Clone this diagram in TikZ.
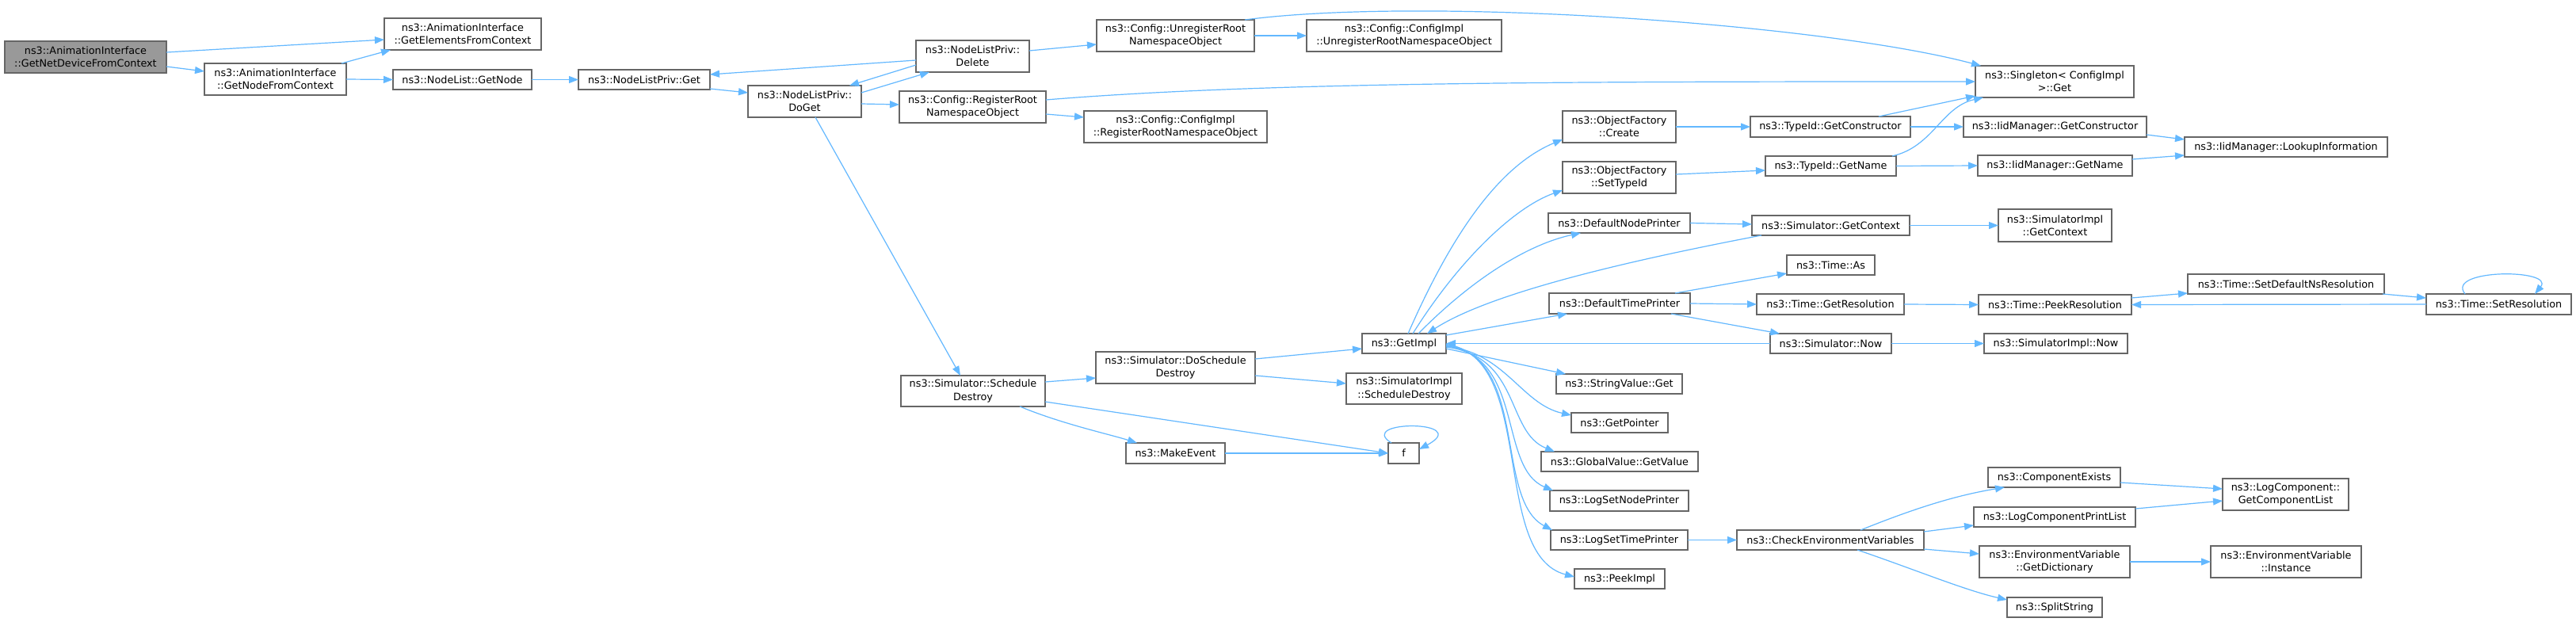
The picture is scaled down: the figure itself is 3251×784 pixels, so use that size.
\documentclass[tikz,border=0pt]{standalone}
\usepackage{fontspec}
\setmainfont{DejaVu Sans}
\usetikzlibrary{arrows.meta,calc}
\definecolor{edgec}{HTML}{63B8FF}
\definecolor{bord}{HTML}{666666}
\definecolor{rootc}{HTML}{999999}
\newcommand\bx[7][]{\node[box,#1,minimum width={(#5)-(#3)},minimum height={(#6)-(#4)}] (#2) at ({((#3)+(#5))/2},{((#4)+(#6))/2}) {#7};}
\begin{document}
\begin{tikzpicture}[x=1pt,y=-1pt,
  box/.style={draw=bord,line width=1.3pt,fill=white,inner sep=0pt,outer sep=0pt,align=center,font=\fontsize{12.8}{16.4}\selectfont},
  edge/.style={draw=edgec,line width=1.2pt,-{Triangle[length=12pt,width=9pt]}}]
\fill[white] (0,0) rectangle (3251,784);
\useasboundingbox (0,0) rectangle (3251,784);
% nodes
\bx[fill=rootc]{N0}{6}{52}{210}{92}{ns3::AnimationInterface\\::GetNetDeviceFromContext}
\bx{N1}{258}{80}{437}{120}{ns3::AnimationInterface\\::GetNodeFromContext}
\bx{N2}{485}{23}{683}{63}{ns3::AnimationInterface\\::GetElementsFromContext}
\bx{N3}{496}{88}{671}{113}{ns3::NodeList::GetNode}
\bx{N4}{730}{88}{896}{113}{ns3::NodeListPriv::Get}
\bx{N5}{944}{108}{1087}{148}{ns3::NodeListPriv::\\DoGet}
\bx{N6}{1156}{51}{1299}{91}{ns3::NodeListPriv::\\Delete}
\bx{N7}{1384}{25}{1583}{65}{ns3::Config::UnregisterRoot\\NamespaceObject}
\bx{N10}{1649}{25}{1895}{65}{ns3::Config::ConfigImpl\\::UnregisterRootNamespaceObject}
\bx{N8}{1135}{115}{1320}{155}{ns3::Config::RegisterRoot\\NamespaceObject}
\bx{N9}{1368}{140}{1599}{180}{ns3::Config::ConfigImpl\\::RegisterRootNamespaceObject}
\bx{N11}{2493}{83}{2693}{123}{ns3::Singleton< ConfigImpl\\>::Get}
\bx{N15}{1972}{140}{2115}{180}{ns3::ObjectFactory\\::Create}
\bx{N16}{2209}{147}{2411}{173}{ns3::TypeId::GetConstructor}
\bx{N12}{2478}{147}{2709}{173}{ns3::IidManager::GetConstructor}
\bx{N17}{1972}{204}{2115}{244}{ns3::ObjectFactory\\::SetTypeId}
\bx{N18}{2228}{197}{2393}{222}{ns3::TypeId::GetName}
\bx{N13}{2496}{196}{2691}{222}{ns3::IidManager::GetName}
\bx{N14}{2757}{173}{3013}{198}{ns3::IidManager::LookupInformation}
\bx{N19}{1954}{269}{2133}{294}{ns3::DefaultNodePrinter}
\bx{N20}{2211}{272}{2410}{297}{ns3::Simulator::GetContext}
\bx{N48}{2522}{264}{2665}{305}{ns3::SimulatorImpl\\::GetContext}
\bx{N21}{2255}{322}{2366}{347}{ns3::Time::As}
\bx{N22}{1955}{370}{2133}{396}{ns3::DefaultTimePrinter}
\bx{N23}{2217}{371}{2403}{397}{ns3::Time::GetResolution}
\bx{N46}{2497}{372}{2690}{397}{ns3::Time::PeekResolution}
\bx{N44}{2761}{346}{3009}{371}{ns3::Time::SetDefaultNsResolution}
\bx{N45}{3062}{371}{3245}{397}{ns3::Time::SetResolution}
\bx{N24}{2234}{421}{2387}{446}{ns3::Simulator::Now}
\bx{N47}{2504}{421}{2685}{446}{ns3::SimulatorImpl::Now}
\bx{N25}{1719}{421}{1825}{446}{ns3::GetImpl}
\bx{N26}{1137}{474}{1319}{513}{ns3::Simulator::Schedule\\Destroy}
\bx{N27}{1383}{444}{1584}{484}{ns3::Simulator::DoSchedule\\Destroy}
\bx{N28}{1699}{471}{1845}{510}{ns3::SimulatorImpl\\::ScheduleDestroy}
\bx{N29}{1421}{559}{1546}{585}{ns3::MakeEvent}
\bx{N30}{1752}{559}{1791}{585}{f}
\bx{N31}{1964}{472}{2123}{497}{ns3::StringValue::Get}
\bx{N32}{1983}{521}{2105}{546}{ns3::GetPointer}
\bx{N33}{1945}{570}{2143}{595}{ns3::GlobalValue::GetValue}
\bx{N34}{1956}{619}{2131}{645}{ns3::LogSetNodePrinter}
\bx{N35}{1957}{669}{2130}{694}{ns3::LogSetTimePrinter}
\bx{N36}{2192}{669}{2428}{694}{ns3::CheckEnvironmentVariables}
\bx{N37}{1987}{718}{2101}{743}{ns3::PeekImpl}
\bx{N38}{2509}{590}{2676}{615}{ns3::ComponentExists}
\bx{N39}{2491}{640}{2695}{665}{ns3::LogComponentPrintList}
\bx{N40}{2498}{689}{2688}{729}{ns3::EnvironmentVariable\\::GetDictionary}
\bx{N41}{2533}{754}{2653}{779}{ns3::SplitString}
\bx{N42}{2805}{604}{2964}{644}{ns3::LogComponent::\\GetComponentList}
\bx{N43}{2790}{689}{2980}{729}{ns3::EnvironmentVariable\\::Instance}
% edges
\draw[edge] ($(N0.center)+(102,-6)$) -- ($(N2.center)+(-99,7)$);
\draw[edge] ($(N0.center)+(102,12)$) -- ($(N1.center)+(-89.5,-10)$);
\draw[edge] ($(N1.center)+(83.5,-20)$) -- ($(N2.center)+(-91,20)$);
\draw[edge] (N1.east) -- (N3.west);
\draw[edge] (N3.east) -- (N4.west);
\draw[edge] ($(N4.center)+(83,11.5)$) -- ($(N5.center)+(-71.5,-11)$);
\draw[edge] ($(N6.center)+(-71.5,5)$) -- ($(N4.center)+(83,-6.5)$);
\draw[edge] ($(N6.center)+(-71.5,11)$) -- ($(N5.center)+(56.5,-20)$);
\draw[edge] ($(N5.center)+(71.5,-11)$) -- ($(N6.center)+(-54.5,20)$);
\draw[edge] ($(N5.center)+(71.5,3)$) -- ($(N8.center)+(-92.5,-3)$);
\draw[edge] ($(N5.center)+(13.5,20)$) -- ($(N26.center)+(-16,-19.5)$);
\draw[edge] ($(N6.center)+(71.5,-7)$) -- ($(N7.center)+(-99.5,11)$);
\draw[edge] (N7.east) -- (N10.west);
\draw[edge] ($(N7.center)+(87.5,-20)$) .. controls (1800,-5) and (2300,30) .. ($(N11.center)+(-93,-20)$);
\draw[edge] ($(N8.center)+(92.5,-9)$) .. controls (1600,103) and (2000,103) .. (N11.west);
\draw[edge] ($(N8.center)+(92.5,9)$) -- ($(N9.center)+(-115.5,-12)$);
\draw[edge] (N15.east) -- (N16.west);
\draw[edge] (N16.east) -- (N12.west);
\draw[edge] ($(N16.center)+(61,-13)$) -- ($(N11.center)+(-100,18)$);
\draw[edge] ($(N18.center)+(77.5,-12.5)$) .. controls (2440,185) and (2450,135) .. ($(N11.center)+(-90,20)$);
\draw[edge] (N18.east) -- (N13.west);
\draw[edge] ($(N12.center)+(115.5,10)$) -- ($(N14.center)+(-128,-9.5)$);
\draw[edge] ($(N13.center)+(97.5,-8)$) -- ($(N14.center)+(-128,10.5)$);
\draw[edge] ($(N17.center)+(71.5,-4)$) -- ($(N18.center)+(-82.5,5.5)$);
\draw[edge] ($(N25.center)+(5,-12.5)$) .. controls (1830,300) and (1890,210) .. ($(N15.center)+(-71.5,16)$);
\draw[edge] ($(N25.center)+(11,-12.5)$) .. controls (1840,330) and (1910,262) .. ($(N17.center)+(-71.5,16)$);
\draw[edge] ($(N25.center)+(18,-12.5)$) .. controls (1860,350) and (1930,308) .. ($(N19.center)+(-48.5,12.5)$);
\draw[edge] ($(N20.center)+(-87.5,12.5)$) .. controls (2050,330) and (1880,370) .. ($(N25.center)+(29,-12.5)$);
\draw[edge] ($(N25.center)+(53,-10.5)$) -- ($(N22.center)+(-66,13)$);
\draw[edge] (N24.west) -- (N25.east);
\draw[edge] (N19.east) -- ($(N20.center)+(-99.5,-1.5)$);
\draw[edge] (N20.east) -- (N48.west);
\draw[edge] ($(N22.center)+(70,-13)$) -- ($(N21.center)+(-55.5,10.5)$);
\draw[edge] (N22.east) -- (N23.west);
\draw[edge] ($(N22.center)+(65,13)$) -- ($(N24.center)+(-64.5,-12.5)$);
\draw[edge] (N23.east) -- (N46.west);
\draw[edge] (N24.east) -- (N47.west);
\draw[edge] ($(N46.center)+(96.5,-8.5)$) -- ($(N44.center)+(-124,11.5)$);
\draw[edge] ($(N44.center)+(122,12.5)$) -- ($(N45.center)+(-91.5,-8)$);
\draw[edge] (N45.west) -- (N46.east);
\draw[edge] ($(N45.center)+(-42.5,-13)$) .. controls (3085,339) and (3225,339) .. ($(N45.center)+(45.5,-13)$);
\draw[edge] ($(N27.center)+(100.5,-11)$) -- ($(N25.center)+(-53,6.5)$);
\draw[edge] ($(N27.center)+(100.5,10)$) -- ($(N28.center)+(-73,-6.5)$);
\draw[edge] ($(N26.center)+(91,-11.5)$) -- ($(N27.center)+(-100.5,13)$);
\draw[edge] ($(N26.center)+(91,13.5)$) -- (N30.west);
\draw[edge] ($(N26.center)+(59,19.5)$) .. controls (1340,535) and (1400,548) .. ($(N29.center)+(-48.5,-13)$);
\draw[edge] (N29.east) -- (N30.west);
\draw[edge] ($(N30.center)+(-15.5,-13)$) .. controls (1710,530) and (1860,530) .. ($(N30.center)+(19.5,-5)$);
\draw[edge] ($(N25.center)+(53,6.5)$) -- ($(N31.center)+(-67.5,-12.5)$);
\draw[edge] ($(N25.center)+(53,3.5)$) .. controls (1900,445) and (1920,510) .. ($(N32.center)+(-61,-9.5)$);
\draw[edge] ($(N25.center)+(53,4.5)$) .. controls (1920,450) and (1900,545) .. ($(N33.center)+(-82,-12.5)$);
\draw[edge] ($(N25.center)+(53,3)$) .. controls (1925,450) and (1890,590) .. ($(N34.center)+(-83.5,-13)$);
\draw[edge] ($(N25.center)+(53,2)$) .. controls (1930,450) and (1885,630) .. ($(N35.center)+(-84.5,-12.5)$);
\draw[edge] ($(N25.center)+(53,1)$) .. controls (1940,450) and (1880,700) .. ($(N37.center)+(-57,-2.5)$);
\draw[edge] (N35.east) -- (N36.west);
\draw[edge] ($(N36.center)+(38,-12.5)$) .. controls (2420,640) and (2470,625) .. ($(N38.center)+(-62.5,12.5)$);
\draw[edge] ($(N36.center)+(118,-10.5)$) -- ($(N39.center)+(-102,10.5)$);
\draw[edge] ($(N36.center)+(118,11.5)$) -- ($(N40.center)+(-95,-10)$);
\draw[edge] ($(N36.center)+(34,12.5)$) .. controls (2420,720) and (2480,745) .. ($(N41.center)+(-60,-9.5)$);
\draw[edge] ($(N38.center)+(83.5,6.5)$) -- ($(N42.center)+(-79.5,-7)$);
\draw[edge] ($(N39.center)+(102,-10.5)$) -- ($(N42.center)+(-79.5,8)$);
\draw[edge] (N40.east) -- (N43.west);
\end{tikzpicture}
\end{document}
